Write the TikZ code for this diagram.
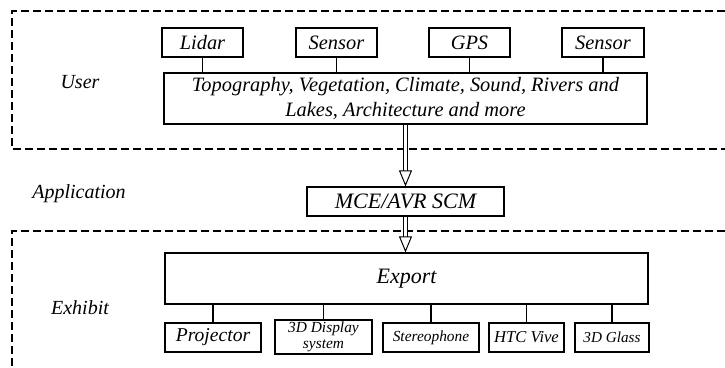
\documentclass[tikz,border=0pt]{standalone}
\usepackage{fontspec}
\setmainfont{Liberation Serif}
\usetikzlibrary{arrows.meta,positioning,calc}

\tikzset{
  box/.style={draw, line width=0.6pt, inner sep=0pt, minimum height=14.5pt,
    font=\itshape\fontsize{10.2}{12.5}\selectfont},
  frame/.style={line width=0.6pt, dash pattern=on 3.8pt off 2.2pt},
  link/.style={line width=0.6pt},
  bigarrow/.style={double, double distance=1.8pt, line width=0.5pt,
    -{Triangle[open, length=8pt, width=6.5pt, line width=0.5pt]}},
  layer/.style={font=\itshape\fontsize{10}{12}\selectfont}
}

\begin{document}
\begin{tikzpicture}[x=0.5pt,y=-0.5pt]
    \useasboundingbox (0,0) rectangle (725,368);

    % dashed frames
    \draw[frame] (725,11) -- (12,11) -- (12,149) -- (725,149);
    \draw[frame] (725,231) -- (12,231) -- (12,368);

    % layer names
    \node[layer] (user) at (80,82) {User};
    \node[layer] (app) at (79,194) {Application};
    \node[layer] (exhibit) at (80,308) {Exhibit};

    % user layer
    \node[box, minimum width=40.5pt] (lidar) at (202.5,42.5) {Lidar};
    \node[box, minimum width=40.5pt] (sensorA) at (336.5,42.5) {Sensor};
    \node[box, minimum width=40.5pt] (gps) at (469.5,42.5) {GPS};
    \node[box, minimum width=41pt] (sensorB) at (603,42.5) {Sensor};
    \node[box, minimum width=241.5pt, minimum height=25.5pt, align=center] (data) at (405.5,98.5)
        {Topography, Vegetation, Climate, Sound, Rivers and\\Lakes, Architecture and more};

    \foreach \src in {lidar,sensorA,gps,sensorB} {
        \draw[link] (\src.south) -- (\src.south |- data.north);
    }

    % application layer
    \node[box, minimum width=98.5pt, font=\itshape\fontsize{11}{12}\selectfont] (scm) at (405.5,201.5) {MCE/AVR SCM};

    % exhibit layer
    \node[box, minimum width=241.5pt, minimum height=25.5pt, font=\itshape\fontsize{11}{12}\selectfont] (export) at (406.5,278.5) {Export};
    \node[box, minimum width=48pt, font=\itshape\fontsize{9.8}{12}\selectfont] (proj) at (213,337.5) {Projector};
    \node[box, minimum width=48.5pt, minimum height=17pt, align=center,
          font=\itshape\fontsize{7.7}{7.8}\selectfont] (display) at (323.5,337) {3D Display\\system};
    \node[box, minimum width=48pt, font=\itshape\fontsize{7.7}{8}\selectfont] (stereo) at (431,337.5) {Stereophone};
    \node[box, minimum width=37.5pt, font=\itshape\fontsize{8.3}{9}\selectfont] (htc) at (526.5,337.5) {HTC Vive};
    \node[box, minimum width=37pt, font=\itshape\fontsize{7.6}{9}\selectfont] (glass) at (612,337.5) {3D Glass};

    \foreach \dst in {proj,display,stereo,htc,glass} {
        \draw[link] (\dst.north |- export.south) -- (\dst.north);
    }

    % data flow
    \draw[bigarrow] (scm.north |- data.south) -- (scm.north);
    \draw[bigarrow] (scm.south) -- (scm.south |- export.north);
\end{tikzpicture}
\end{document}
